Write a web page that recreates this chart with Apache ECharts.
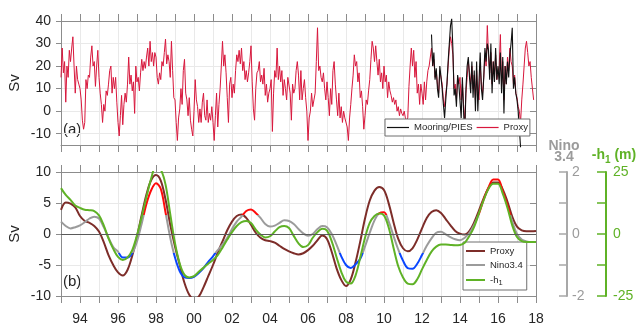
<!DOCTYPE html>
<html>
<head>
<meta charset="utf-8">
<script src="https://cdn.jsdelivr.net/npm/echarts@6/dist/echarts.min.js"></script>
<style>
  html, body { margin: 0; padding: 0; background: #ffffff; }
  #chart { width: 638px; height: 326px; }
</style>
</head>
<body>
<div id="chart"></div>
<script>
// Panel (a): transport proxy and mooring/PIES record, 16 samples per year (Sv)
const proxyStart = 1993;
const proxyStep = 1 / 16;
const proxySv = [
  15, 28, 17, 22, 4, 20, 15, 27, 22, 28, 33, 20, 8, 20, 14, 12,        // 1993
  10, 5, -4, -8, -5, 14, 10, 16, 15, 24, 29, 20, 22, 11, 20, 27,       // 1994
  15, 8, 3, -5, 3, 0, 9, 7, 12, 18, 20, 8, 15, 10, 15, 4,              // 1995
  -5, -11, -2, 7, -6, 3, 8, 4, 12, 24, 12, 16, 9, 13, -1, 20,          // 1996
  13, 15, 9, 17, 23, 18, 22, 19, 24, 28, 20, 31, 22, 26, 20, 26,       // 1997
  24, 15, 12, 17, 14, 22, 20, 26, 32, 21, 25, 22, 15, 31, 18, 6,       // 1998
  5, -5, -13, -3, 1, 10, 3, 18, 23, 8, 5, -2, 6, -4, -8, -11,          // 1999
  0, 14, 5, 2, -5, 1, -5, 4, 8, -2, -4, 5, -5, -1, -4, 2,              // 2000
  -5, -13, -2, 8, -7, 3, 10, 20, 31, 20, 25, 17, 6, -5, 12, 15,        // 2001
  6, 12, 8, 18, 25, 22, 27, 21, 28, 18, 22, 14, 18, 13, 17, 22,        // 2002
  29, 13, 1, -4, 10, 17, 18, 22, 13, 16, 12, 19, 7, 12, 4, 8,          // 2003
  10, 14, -9, 8, 18, 15, 28, 14, 20, 13, 18, 7, 14, 10, 5, 15,         // 2004
  15, 8, -4, 12, 8, 10, 18, 22, 16, 5, 18, 5, 10, 14, 6, 0,            // 2005
  -13, -3, 0, 8, 2, 5, 8, 22, 37, 18, 20, 15, 13, 17, 10, 5,           // 2006
  13, 6, -2, 10, 3, 18, 22, 12, 5, -2, 8, -3, 2, -5, 0, -3,            // 2007
  -3, -7, -13, -3, 3, 10, 16, 25, 20, 22, 13, 17, 6, 9, 2, -8,         // 2008
  -2, 5, 3, 9, 14, 23, 31, 28, 22, 29, 22, 16, 23, 13, 17, 10,         // 2009
  20, 13, 16, 6, 13, 9, 7, 4, 6, 3, 5, 0, 2, -2, 1, -1,                // 2010
  -2, 0, -3, -4, -3, 11, 20, 28, 20, 27, 15, 22, 8, 12, 3, 12,         // 2011
  8, 3, 13, 5, 13, 18, 20, 20, 28, 20, 23, 15, 18, 12, 8, 18,          // 2012
  18, 12, 5, 2, 8, 12, 20, 28, 33, 30, 25, 10, 12, 5, 15, 12,          // 2013
  15, 5, 12, 3, -5, 8, 15, 22, 17, 12, 20, 10, 16, 5, 18, 8,           // 2014
  5, 20, 12, 8, 15, 25, 20, 38, 25, 17, 26, 12, 22, 15, 25, 14,        // 2015
  14, 20, 34, 12, 22, 5, 20, 12, 24, 18, 28, 22, 20, 12, 16, 8,        // 2016
  6, 2, 0, -5, 5, 12, 20, 28, 31, 26, 20, 22, 15, 10, 5                // 2017
];

const mooringStart = 2012.5;
const mooringStep = 1 / 16;
const mooringSv = [
  34, 20, 26, 14, 19, 10, 6, 20,                                        // 2012 (second half)
  20, 10, 3, -3, 5, 12, 22, 30, 38, 41, 28, 7, 10, 2, 16, 12,          // 2013
  12, -3, 15, 0, -11, 10, 20, 24, 15, 8, 22, 6, 18, 0, 22, 0,          // 2014
  0, 26, 10, 5, 15, 28, 22, 30, 27, 14, 30, 8, 22, 13, 28, 14,         // 2015
  20, 12, 26, 8, 24, -1, 20, 12, 22, 15, 25, 30, 37, 10, 15, 8,        // 2016
  5, 0, -8, -16                                                         // 2017
];

// Panel (b): low-pass series, 4 samples per year
const lowpassStart = 1993;
const lowpassStep = 0.25;
const proxyLowpassSv = [
  3.9, 5.1, 4.9, 4.3,   2.9, 2.1, 1.8, 1.3,   0.4, -1.3, -3.4, -5.0,
  -6.2, -6.7, -5.8, -3.5,   -0.4, 3.1, 6.4, 8.7,   9.5, 8.6, 5.6, 1.5,
  -2.0, -5.0, -7.9, -9.8,   -10.5, -10.1, -8.6, -6.8,   -5.0, -3.0, -1.2, 0.6,
  2.0, 2.9, 3.15, 2.6,   1.5, 0.2, -0.6, -1.0,   -1.15, -1.4, -1.9, -2.4,
  -2.8, -3.1, -3.3, -3.1,   -2.6, -1.9, -1.0, -0.25,   -0.8, -2.9, -5.5, -7.4,
  -8.4, -7.3, -4.6, -1.2,   2.5, 5.4, 7.0, 7.6,   7.1, 4.9, 1.9, -0.8,
  -2.3, -2.8, -2.3, -0.9,   0.9, 2.6, 3.55, 3.85,   3.4, 2.4, 1.4, 0.5,
  0.05, -0.1, 0.5, 1.9,   3.8, 5.8, 7.4, 8.3,   8.3, 7.2, 5.2, 2.8,
  1.2, 0.6, 0.45, 0.45,   0.5
];
const nino34 = [
  0.40, 0.26, 0.18, 0.22,   0.28, 0.38, 0.50, 0.56,   0.50, 0.22, -0.12, -0.42,
  -0.57, -0.76, -0.76, -0.62,   -0.24, 0.34, 0.98, 1.42,   1.64, 1.46, 0.70, -0.12,
  -0.76, -1.20, -1.40, -1.42,   -1.38, -1.26, -1.10, -0.90,   -0.72, -0.52, -0.34, -0.12,
  0.16, 0.40, 0.56, 0.74,   0.79, 0.68, 0.52, 0.32,   0.24, 0.27, 0.36, 0.44,
  0.42, 0.32, 0.16, 0.02,   -0.06, 0.00, 0.16, 0.26,   0.22, 0.00, -0.34, -0.72,
  -1.00, -1.10, -0.98, -0.80,   -0.40, 0.04, 0.44, 0.67,   0.70, 0.40, -0.06, -0.50,
  -0.86, -1.10, -1.12, -0.96,   -0.68, -0.38, -0.14, 0.04,   0.07, -0.01, -0.10, -0.17,
  -0.20, -0.12, 0.04, 0.30,   0.66, 1.12, 1.50, 1.76,   1.76, 1.38, 0.92, 0.40,
  0.00, -0.18, -0.24, -0.26,   -0.26
];
const negH1 = [
  18.5, 15.75, 13.75, 11.5,   10.5, 9.75, 9.6, 9.25,   7.5, 3.5, -1.75, -6.0,
  -9.25, -10.5, -9.5, -6.5,   -0.5, 7.0, 15.0, 22.5,   27.25, 26.0, 20.0, 8.0,
  -3.75, -12.0, -16.5, -17.5,   -17.0, -15.25, -13.6, -12.0,   -10.5, -8.5, -5.5, -2.25,
  0.75, 3.25, 4.75, 5.25,   4.4, 1.75, -0.25, -1.4,   -0.9, 1.0, 2.75, 3.25,
  2.4, -0.75, -3.75, -5.25,   -4.5, -1.5, 0.75, 2.1,   1.4, -3.0, -9.25, -15.25,
  -19.25, -20.0, -16.75, -9.5,   -1.5, 4.5, 7.25, 8.25,   7.5, 2.5, -5.5, -13.0,
  -17.5, -20.0, -20.25, -18.25,   -14.25, -10.5, -7.1, -5.1,   -4.25, -4.25, -4.4, -4.5,
  -4.4, -3.5, -0.75, 3.0,   8.5, 13.75, 18.25, 20.25,   20.25, 16.25, 10.5, 3.5,
  -1.25, -2.9, -3.25, -3.25,   -3.25
];

// Axis ticks and thresholds
const topSvTicks = [-10, 0, 10, 20, 30, 40];
const ensoThreshold = 0.6;

const FONT = 'Liberation Sans, Arial, Helvetica, sans-serif';
const FRAME = '#8c8c8c';
const GRIDLINE = '#e9e9e9';
const TXT = '#262626';
const GREY = '#9b9b9b';
const GREEN = '#5fb226';
const BROWN = '#7d2d29';
const RED_A = '#d8173c';

const toPairs = (start, step, vals) => vals.map((v, i) => [start + i * step, v]);

const yearLabel = v => {
  const y = Math.round(v);
  return y % 2 === 0 ? String(y % 100).padStart(2, '0') : '';
};

function xAxisFor(gridIndex, position, withLabels, withGrid) {
  return {
    type: 'value', gridIndex, position,
    min: 1993, max: 2018, interval: 1,
    axisLine: { show: true, onZero: false, lineStyle: { color: FRAME, width: 1 } },
    axisTick: { show: true, inside: false, length: 7, interval: 0, lineStyle: { color: FRAME, width: 1 } },
    axisLabel: withLabels
      ? { show: true, interval: 0, formatter: yearLabel, color: TXT, fontSize: 14, fontFamily: FONT, margin: 16, hideOverlap: false }
      : { show: false },
    splitLine: { show: withGrid, lineStyle: { color: GRIDLINE, width: 1 } }
  };
}

const svName = {
  name: 'Sv', nameLocation: 'middle', nameGap: 39, nameRotate: 90, nameMoveOverlap: false,
  nameTextStyle: { fontSize: 15, color: TXT, fontFamily: FONT }
};

const chart = echarts.init(document.getElementById('chart'), null, { renderer: 'canvas' });

const option = {
  animation: false,
  backgroundColor: '#ffffff',
  textStyle: { fontFamily: FONT },
  grid: [
    { left: 61, top: 21, width: 475, height: 124, outerBoundsMode: 'none' },
    { left: 61, top: 172, width: 475, height: 124, outerBoundsMode: 'none' }
  ],
  xAxis: [
    xAxisFor(0, 'bottom', false, true),
    xAxisFor(0, 'top', false, false),
    xAxisFor(1, 'bottom', true, true),
    xAxisFor(1, 'top', false, false)
  ],
  yAxis: [
    Object.assign({
      type: 'value', gridIndex: 0, position: 'left', min: -15, max: 40,
      axisLine: { show: true, lineStyle: { color: FRAME } },
      axisTick: { show: true, inside: false, length: 5, customValues: topSvTicks, lineStyle: { color: FRAME } },
      axisLabel: { show: true, customValues: topSvTicks, color: TXT, fontSize: 14, fontFamily: FONT, margin: 10 },
      splitLine: { show: true, lineStyle: { color: GRIDLINE } }
    }, svName),
    {
      type: 'value', gridIndex: 0, position: 'right', offset: 0, min: -15, max: 40,
      axisLine: { show: true, lineStyle: { color: FRAME } },
      axisTick: { show: true, inside: true, length: 6, customValues: topSvTicks, lineStyle: { color: FRAME } },
      axisLabel: { show: false },
      splitLine: { show: false }
    },
    Object.assign({
      type: 'value', gridIndex: 1, position: 'left', min: -10, max: 10, interval: 5,
      axisLine: { show: true, lineStyle: { color: FRAME } },
      axisTick: { show: true, inside: false, length: 5, lineStyle: { color: FRAME } },
      axisLabel: { show: true, color: TXT, fontSize: 14, fontFamily: FONT, margin: 10 },
      splitLine: { show: true, lineStyle: { color: GRIDLINE } }
    }, svName),
    {
      type: 'value', gridIndex: 1, position: 'right', offset: 0, min: -10, max: 10, interval: 5,
      axisLine: { show: true, lineStyle: { color: FRAME } },
      axisTick: { show: true, inside: true, length: 6, lineStyle: { color: FRAME } },
      axisLabel: { show: false },
      splitLine: { show: false }
    },
    {
      type: 'value', gridIndex: 1, position: 'right', offset: 31, min: -2, max: 2, interval: 1,
      name: 'Nino\n3.4', nameLocation: 'end', nameGap: 9,
      nameTextStyle: { fontSize: 14, fontWeight: 'bold', color: GREY, fontFamily: FONT, lineHeight: 11, padding: [0, 6, 0, 0] },
      axisLine: { show: true, lineStyle: { color: '#a8a8a8', width: 2 } },
      axisTick: { show: true, inside: true, length: 8, lineStyle: { color: '#a8a8a8', width: 1.5 } },
      axisLabel: { show: true, color: GREY, fontSize: 14, fontFamily: FONT, margin: 5,
                   formatter: v => (Math.round(v) % 2 === 0 ? String(v) : '') },
      splitLine: { show: false }
    },
    {
      type: 'value', gridIndex: 1, position: 'right', offset: 70, min: -25, max: 25, interval: 12.5,
      name: '{t|-h}{s|1}{t| (m)}', nameLocation: 'end', nameGap: 7,
      nameTextStyle: {
        padding: [0, 0, 0, 16],
        rich: {
          t: { fontSize: 14, fontWeight: 'bold', color: GREEN, fontFamily: FONT, lineHeight: 20, verticalAlign: 'middle' },
          s: { fontSize: 10, fontWeight: 'bold', color: GREEN, fontFamily: FONT, lineHeight: 20, verticalAlign: 'bottom' }
        }
      },
      axisLine: { show: true, lineStyle: { color: GREEN, width: 2 } },
      axisTick: { show: true, inside: true, length: 9, lineStyle: { color: GREEN, width: 1.5 } },
      axisLabel: { show: true, color: GREEN, fontSize: 14, fontFamily: FONT, margin: 7,
                   formatter: v => (v === 25 || v === 0 || v === -25 ? String(v) : '') },
      splitLine: { show: false }
    }
  ],
  visualMap: [{
    type: 'piecewise', show: false, seriesIndex: 3, dimension: 1,
    pieces: [
      { lt: -ensoThreshold, color: '#0a46ff' },
      { gte: -ensoThreshold, lte: ensoThreshold, color: GREY },
      { gt: ensoThreshold, color: '#ff0a0a' }
    ]
  }],
  legend: [
    {
      left: 385, top: 119, orient: 'horizontal',
      data: ['Mooring/PIES', 'Proxy'],
      icon: 'rect', itemWidth: 22, itemHeight: 1.2, itemGap: 4,
      padding: [3, 2, 3, 2],
      borderColor: '#6e6e6e', borderWidth: 1, borderRadius: 0, backgroundColor: '#ffffff',
      selectedMode: false,
      textStyle: { fontSize: 9.5, color: TXT, fontFamily: FONT, lineHeight: 11 }
    },
    {
      left: 463, top: 242, orient: 'vertical',
      data: ['Proxy (low-pass)', 'Nino3.4', '-h1'],
      icon: 'rect', itemWidth: 19, itemHeight: 2, itemGap: 2,
      padding: [3, 4, 3, 3],
      borderColor: '#6e6e6e', borderWidth: 1, borderRadius: 0, backgroundColor: '#ffffff',
      selectedMode: false,
      formatter: name => ({ 'Proxy (low-pass)': 'Proxy', 'Nino3.4': 'Nino3.4', '-h1': '-h{s|1}' }[name]),
      textStyle: {
        fontSize: 9.5, color: TXT, fontFamily: FONT, lineHeight: 12,
        rich: { s: { fontSize: 7.5, color: TXT, fontFamily: FONT, lineHeight: 14, verticalAlign: 'bottom' } }
      }
    }
  ],
  graphic: [
    { type: 'text', left: 63, top: 122, style: { text: '(a)', fontSize: 15, fill: TXT, fontFamily: FONT } },
    { type: 'text', left: 63, top: 274, style: { text: '(b)', fontSize: 15, fill: TXT, fontFamily: FONT } }
  ],
  series: [
    {
      name: 'Proxy', type: 'line', xAxisIndex: 0, yAxisIndex: 0,
      data: toPairs(proxyStart, proxyStep, proxySv),
      showSymbol: false, symbol: 'none', clip: false,
      color: RED_A, lineStyle: { width: 1 }, z: 2
    },
    {
      name: 'Mooring/PIES', type: 'line', xAxisIndex: 0, yAxisIndex: 0,
      data: toPairs(mooringStart, mooringStep, mooringSv),
      showSymbol: false, symbol: 'none', clip: false,
      color: '#111111', lineStyle: { width: 1.1 }, z: 3
    },
    {
      name: 'Proxy (low-pass)', type: 'line', xAxisIndex: 2, yAxisIndex: 2,
      data: toPairs(lowpassStart, lowpassStep, proxyLowpassSv),
      showSymbol: false, symbol: 'none', smooth: 0.35,
      color: BROWN, lineStyle: { width: 2 }, z: 2,
      markLine: {
        silent: true, symbol: 'none', label: { show: false },
        lineStyle: { color: '#5a5a5a', width: 1, type: 'solid' },
        data: [{ yAxis: 0 }]
      }
    },
    {
      name: 'Nino3.4', type: 'line', xAxisIndex: 2, yAxisIndex: 4,
      data: toPairs(lowpassStart, lowpassStep, nino34),
      showSymbol: false, symbol: 'none', smooth: 0.35,
      color: GREY, lineStyle: { width: 2 }, z: 3
    },
    {
      name: '-h1', type: 'line', xAxisIndex: 2, yAxisIndex: 5,
      data: toPairs(lowpassStart, lowpassStep, negH1),
      showSymbol: false, symbol: 'none', smooth: 0.35,
      color: GREEN, lineStyle: { width: 2 }, z: 4
    }
  ]
};

chart.setOption(option);
</script>
</body>
</html>
